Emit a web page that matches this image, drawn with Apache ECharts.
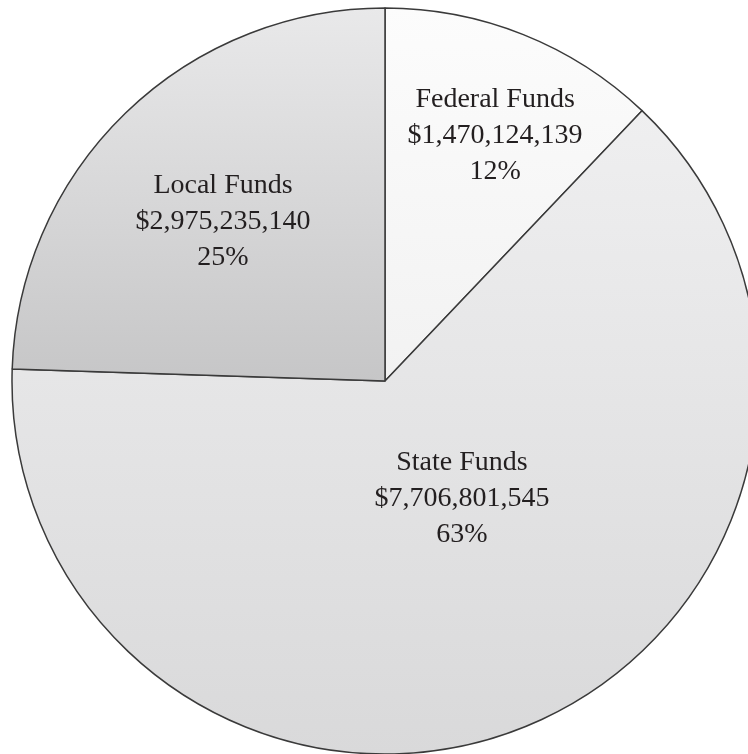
<!DOCTYPE html>
<html>
<head>
<meta charset="utf-8">
<script src="https://cdn.jsdelivr.net/npm/echarts@6/dist/echarts.min.js"></script>
<style>
  html, body { margin: 0; padding: 0; background: #ffffff; }
  #chart { width: 748px; height: 754px; }
</style>
</head>
<body>
<div id="chart"></div>
<script>
// Funding sources
const categories = ['Federal Funds', 'State Funds', 'Local Funds'];
const amounts = [1470124139, 7706801545, 2975235140];
const percentLabels = ['12%', '63%', '25%'];

// Slice shading (top colour, bottom colour)
const shades = [
  ['#fcfcfc', '#f2f2f2'],
  ['#efeff0', '#d9d9da'],
  ['#e9e9ea', '#c6c6c7']
];

// Label anchors in polar form: clockwise angle from 12 o'clock (deg), fraction of radius
const labelPolar = [
  [24.2, 0.720],
  [146.9, 0.378],
  [314.6, 0.610]
];

const CX = 385, CY = 381, R = 373;

function money(v) {
  return '$' + v.toLocaleString('en-US');
}

const chart = echarts.init(document.getElementById('chart'), null, { renderer: 'canvas' });

chart.setOption({
  backgroundColor: '#ffffff',
  animation: false,
  series: [{
    type: 'pie',
    center: [CX, CY],
    radius: [0, R],
    startAngle: 90,
    clockwise: true,
    silent: true,
    avoidLabelOverlap: false,
    itemStyle: {
      borderColor: '#3a3a3a',
      borderWidth: 1.5
    },
    label: {
      show: true,
      position: 'inside',
      fontFamily: '"Liberation Serif", "DejaVu Serif", serif',
      fontSize: 28,
      lineHeight: 36,
      color: '#231f20',
      align: 'center',
      verticalAlign: 'middle',
      formatter: function (p) {
        return p.name + '\n' + money(p.value) + '\n' + percentLabels[p.dataIndex];
      }
    },
    labelLine: { show: false },
    labelLayout: function (params) {
      const lp = labelPolar[params.dataIndex];
      const a = lp[0] * Math.PI / 180;
      return {
        x: CX + Math.sin(a) * lp[1] * R,
        y: CY - Math.cos(a) * lp[1] * R,
        align: 'center',
        verticalAlign: 'middle'
      };
    },
    data: categories.map(function (name, i) {
      return {
        name: name,
        value: amounts[i],
        itemStyle: {
          color: new echarts.graphic.LinearGradient(0, 0, 0, 1, [
            { offset: 0, color: shades[i][0] },
            { offset: 1, color: shades[i][1] }
          ])
        }
      };
    })
  }]
});
</script>
</body>
</html>
